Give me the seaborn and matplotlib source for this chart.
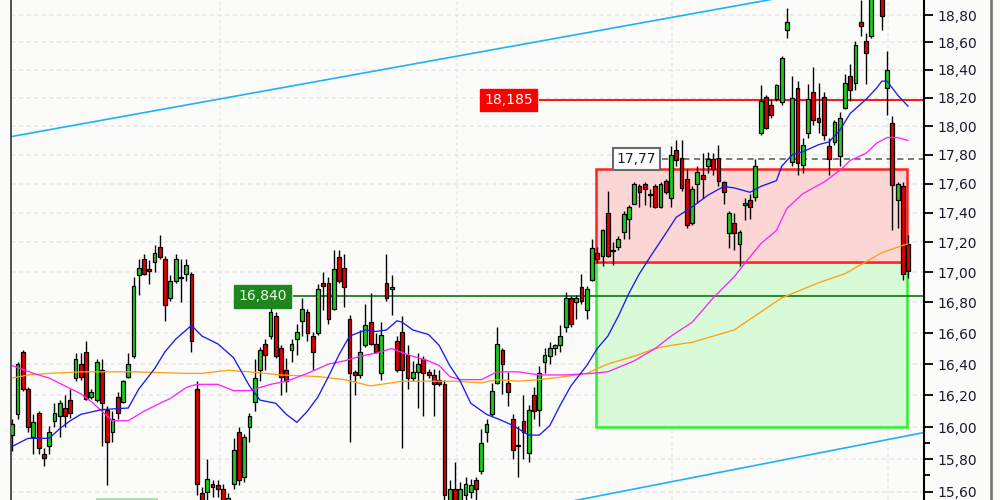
import numpy as np
import pandas as pd
import matplotlib
matplotlib.use("Agg")
import matplotlib.pyplot as plt
import seaborn as sns
from matplotlib.patches import Rectangle
from matplotlib.lines import Line2D
from matplotlib.ticker import FixedLocator, FuncFormatter, NullFormatter

# ---------------- data ----------------
OPEN = [15.95, 16.08, 16.48, 16.24, 15.94, 16.09, 15.83, 15.88, 16.04, 16.07,
        16.12, 16.17, 16.31, 16.40, 16.48, 16.19, 16.17, 16.36, 16.11, 15.97,
        16.19, 16.16, 16.32, 16.45, 16.98, 17.09, 17.02, 17.07, 17.17, 17.09,
        16.83, 16.94, 16.97, 16.99, 16.99, 16.24, 15.59, 15.60, 15.65, 15.64,
        15.62, 15.50, 15.65, 15.97, 15.69, 16.00, 16.16, 16.36, 16.53, 16.58,
        16.71, 16.50, 16.36, 16.49, 16.56, 16.68, 16.74, 16.58, 16.60, 16.93,
        16.93, 16.76, 17.10, 17.03, 16.69, 16.35, 16.33, 16.52, 16.67, 16.53,
        16.34, 16.93, 16.89, 16.55, 16.61, 16.46, 16.31, 16.35, 16.43, 16.35,
        16.33, 16.30, 16.27, 15.52, 15.62, 15.54, 15.58, 15.60, 15.67, 15.73,
        15.97, 16.08, 16.28, 16.49, 16.28, 16.05, 15.89, 16.04, 15.84, 16.20,
        16.11, 16.41, 16.45, 16.50, 16.52, 16.64, 16.83, 16.80, 16.90, 16.75,
        16.95, 17.13, 17.11, 17.40, 17.14, 17.17, 17.27, 17.36, 17.46, 17.58,
        17.60, 17.53, 17.58, 17.44, 17.62, 17.50, 17.83, 17.78, 17.63, 17.33,
        17.60, 17.66, 17.72, 17.77, 17.78, 17.61, 17.26, 17.33, 17.19, 17.45,
        17.49, 17.51, 17.95, 18.21, 18.15, 18.19, 18.17, 18.69, 17.75, 18.27,
        17.73, 17.95, 18.24, 18.06, 18.21, 17.86, 17.89, 17.79, 18.13, 18.36,
        18.31, 18.75, 18.61, 18.65, 19.00, 18.98, 18.27, 18.02, 17.49, 17.58,
        17.19]
HIGH = [16.05, 16.41, 16.49, 16.25, 16.08, 16.10, 15.87, 16.01, 16.15, 16.17,
        16.20, 16.24, 16.47, 16.47, 16.55, 16.24, 16.43, 16.43, 16.13, 16.10,
        16.22, 16.30, 16.47, 16.97, 17.09, 17.12, 17.08, 17.18, 17.25, 17.11,
        16.98, 17.12, 17.09, 17.09, 17.00, 16.29, 15.63, 15.80, 15.67, 15.67,
        15.65, 15.59, 15.93, 16.00, 15.96, 16.09, 16.43, 16.51, 16.56, 16.77,
        16.74, 16.52, 16.44, 16.56, 16.66, 16.83, 16.76, 16.61, 16.92, 17.00,
        16.97, 17.15, 17.15, 17.12, 16.72, 16.36, 16.62, 16.79, 16.86, 16.60,
        16.67, 17.12, 16.98, 16.58, 16.71, 16.52, 16.42, 16.47, 16.45, 16.37,
        16.37, 16.36, 16.30, 15.67, 15.78, 15.66, 15.69, 15.68, 15.69, 15.99,
        16.05, 16.28, 16.64, 16.50, 16.35, 16.08, 16.01, 16.20, 16.14, 16.25,
        16.39, 16.50, 16.54, 16.53, 16.65, 16.87, 16.84, 16.85, 16.99, 16.91,
        17.22, 17.17, 17.29, 17.55, 17.20, 17.24, 17.41, 17.45, 17.61, 17.60,
        17.61, 17.56, 17.60, 17.61, 17.63, 17.86, 17.90, 17.90, 17.70, 17.58,
        17.72, 17.81, 17.82, 17.81, 17.87, 17.62, 17.41, 17.40, 17.28, 17.50,
        17.53, 17.77, 18.29, 18.22, 18.19, 18.30, 18.50, 18.85, 18.36, 18.32,
        17.92, 18.30, 18.42, 18.31, 18.24, 17.92, 18.04, 18.10, 18.37, 18.44,
        18.61, 18.91, 18.67, 19.02, 19.10, 19.03, 18.54, 18.07, 17.61, 17.61,
        17.25]
LOW = [15.85, 16.05, 16.23, 15.97, 15.83, 15.83, 15.76, 15.83, 16.00, 15.94,
       16.00, 16.06, 16.29, 16.30, 16.17, 16.18, 16.16, 15.88, 15.64, 15.91,
       16.05, 16.15, 16.31, 16.44, 16.85, 16.98, 16.92, 17.00, 17.09, 16.68,
       16.81, 16.93, 16.80, 16.94, 16.48, 15.58, 15.45, 15.55, 15.57, 15.57,
       15.48, 15.46, 15.62, 15.64, 15.66, 15.91, 16.10, 16.29, 16.36, 16.56,
       16.44, 16.20, 16.22, 16.41, 16.46, 16.58, 16.55, 16.36, 16.59, 16.75,
       16.66, 16.75, 16.93, 16.77, 15.91, 16.20, 16.31, 16.51, 16.52, 16.47,
       16.30, 16.81, 16.72, 16.35, 15.87, 16.24, 16.29, 16.12, 16.07, 16.31,
       16.07, 16.26, 15.52, 15.48, 15.50, 15.50, 15.53, 15.56, 15.55, 15.71,
       15.91, 16.07, 16.27, 16.21, 16.13, 15.80, 15.69, 15.80, 15.78, 16.05,
       16.01, 16.34, 16.40, 16.46, 16.48, 16.61, 16.64, 16.69, 16.79, 16.69,
       16.94, 17.06, 17.04, 17.10, 17.05, 17.15, 17.22, 17.22, 17.46, 17.44,
       17.45, 17.44, 17.43, 17.43, 17.53, 17.44, 17.72, 17.55, 17.30, 17.32,
       17.47, 17.50, 17.67, 17.66, 17.58, 17.46, 17.16, 17.15, 17.04, 17.35,
       17.36, 17.48, 17.94, 17.98, 18.06, 18.18, 18.15, 18.63, 17.72, 17.66,
       17.67, 17.92, 18.01, 17.95, 17.90, 17.66, 17.87, 17.72, 18.12, 18.18,
       18.26, 18.65, 18.30, 18.63, 18.94, 18.69, 18.08, 17.28, 17.30, 16.95,
       16.96]
CLOSE = [16.02, 16.40, 16.24, 16.00, 16.03, 15.87, 15.81, 15.97, 16.09, 16.15,
         16.07, 16.09, 16.43, 16.32, 16.18, 16.22, 16.41, 16.15, 15.91, 16.05,
         16.09, 16.29, 16.40, 16.91, 17.03, 16.99, 17.01, 17.13, 17.10, 16.78,
         16.94, 17.09, 16.96, 17.05, 16.55, 15.65, 15.50, 15.68, 15.63, 15.62,
         15.52, 15.56, 15.86, 15.67, 15.94, 16.07, 16.31, 16.49, 16.46, 16.74,
         16.45, 16.32, 16.29, 16.53, 16.61, 16.76, 16.60, 16.48, 16.89, 16.91,
         16.69, 17.02, 16.94, 16.90, 16.34, 16.33, 16.48, 16.65, 16.53, 16.48,
         16.59, 16.83, 16.90, 16.36, 16.36, 16.31, 16.35, 16.40, 16.34, 16.33,
         16.27, 16.27, 15.58, 15.62, 15.54, 15.62, 15.65, 15.64, 15.62, 15.90,
         16.02, 16.23, 16.53, 16.40, 16.22, 15.86, 15.88, 15.97, 16.11, 16.10,
         16.34, 16.46, 16.50, 16.52, 16.58, 16.83, 16.66, 16.83, 16.81, 16.89,
         17.16, 17.09, 17.28, 17.11, 17.15, 17.22, 17.39, 17.44, 17.60, 17.54,
         17.56, 17.52, 17.44, 17.60, 17.54, 17.80, 17.76, 17.57, 17.32, 17.56,
         17.68, 17.63, 17.77, 17.70, 17.62, 17.54, 17.40, 17.26, 17.27, 17.47,
         17.44, 17.72, 18.18, 17.99, 18.08, 18.29, 18.49, 18.75, 18.20, 17.74,
         17.87, 18.19, 18.04, 18.03, 17.94, 17.77, 18.03, 18.06, 18.31, 18.26,
         18.58, 18.72, 18.52, 18.97, 19.06, 18.79, 18.40, 17.59, 17.60, 16.99,
         17.01]

# moving averages (bar index, price)
MA_FAST_IDX = [0, 3, 7, 9, 11, 13, 17, 22, 24, 27, 29, 31, 34, 36, 39, 42, 45, 47, 50, 52,
               54, 56, 58, 60, 62, 64, 67, 69, 71, 73, 74, 76, 79, 81, 83, 85, 87, 90, 93, 95,
               98, 100, 102, 104, 106, 109, 111, 113, 115, 117, 119, 121, 124, 126, 129, 132,
               135, 137, 140, 142, 145, 146, 148, 150, 153, 155, 157, 159, 162, 164, 165, 166,
               168, 170]
MA_FAST = [15.88, 15.93, 15.93, 15.99, 16.04, 16.08, 16.11, 16.12, 16.24, 16.37, 16.48, 16.56,
           16.65, 16.58, 16.53, 16.44, 16.26, 16.17, 16.15, 16.08, 16.03, 16.10, 16.19, 16.32,
           16.46, 16.58, 16.62, 16.61, 16.62, 16.68, 16.67, 16.62, 16.59, 16.52, 16.39, 16.29,
           16.15, 16.08, 16.04, 16.01, 15.95, 15.95, 16.01, 16.14, 16.26, 16.39, 16.50, 16.58,
           16.71, 16.86, 16.99, 17.10, 17.26, 17.37, 17.44, 17.52, 17.58, 17.57, 17.54, 17.58,
           17.62, 17.72, 17.80, 17.82, 17.87, 17.89, 17.97, 18.09, 18.19, 18.27, 18.32, 18.32,
           18.22, 18.14]
MA_MID_IDX = [0, 4, 7, 10, 13, 15, 17, 19, 22, 25, 28, 30, 33, 35, 39, 42, 45, 49, 52, 56,
              60, 63, 66, 69, 72, 75, 79, 81, 83, 85, 89, 92, 96, 100, 105, 110, 113, 118, 122,
              125, 129, 133, 137, 139, 142, 145, 147, 150, 154, 157, 159, 162, 164, 166, 168, 170]
MA_MID = [16.39, 16.34, 16.31, 16.26, 16.21, 16.16, 16.10, 16.04, 16.04, 16.10, 16.15, 16.18,
          16.25, 16.27, 16.27, 16.23, 16.23, 16.27, 16.29, 16.34, 16.40, 16.42, 16.45, 16.47,
          16.50, 16.46, 16.42, 16.39, 16.32, 16.30, 16.30, 16.35, 16.35, 16.33, 16.33, 16.34,
          16.35, 16.42, 16.50, 16.58, 16.67, 16.83, 16.97, 17.06, 17.19, 17.28, 17.43, 17.53,
          17.61, 17.69, 17.76, 17.81, 17.88, 17.92, 17.92, 17.90]
MA_SLOW_IDX = [0, 3, 7, 13, 23, 33, 36, 41, 45, 51, 58, 63, 68, 70, 74, 79, 84, 89, 92, 96,
               100, 105, 109, 113, 118, 122, 125, 129, 133, 137, 140, 146, 153, 158, 162, 165,
               169, 170]
MA_SLOW = [16.31, 16.33, 16.34, 16.35, 16.35, 16.34, 16.34, 16.36, 16.35, 16.33, 16.32, 16.30,
           16.26, 16.27, 16.29, 16.29, 16.29, 16.28, 16.30, 16.29, 16.30, 16.32, 16.34, 16.40,
           16.45, 16.50, 16.52, 16.54, 16.58, 16.62, 16.69, 16.83, 16.93, 16.99, 17.07, 17.13,
           17.18, 17.19]

# channel lines (bar index, price)
CHANNEL_UPPER_IDX = [-0.44, 172.98]
CHANNEL_UPPER = [17.925, 19.12]
CHANNEL_LOWER_IDX = [104.9, 172.98]
CHANNEL_LOWER = [15.535, 15.966]

# levels / zones
RESIST_LEVEL = 18.185
SUPPORT_LEVEL = 16.840
HIGH_MARK = 17.77
ZONE_IDX = (110.75, 169.8)
ZONE_RED = (17.07, 17.70)
ZONE_GREEN = (16.00, 17.07)

Y_TICKS = [15.6, 15.8, 16.0, 16.2, 16.4, 16.6, 16.8, 17.0, 17.2, 17.4, 17.6, 17.8,
           18.0, 18.2, 18.4, 18.6, 18.8]
Y_MINOR = [15.7, 15.9]
V_GRID = [39.4, 84.4, 125.2, 166.2]

# ---------------- style ----------------
BG = "#FBFCFA"
sns.set_style("white", {"axes.facecolor": BG, "figure.facecolor": BG})
plt.rcParams['font.family'] = ['DejaVu Sans']

fig = plt.figure(figsize=(10, 5), dpi=100)
fig.patch.set_facecolor(BG)
ax = fig.add_axes([0.0105, 0.0, 0.9135, 1.0])
ax.set_facecolor(BG)
ax.set_yscale('log')

XLIM = (-0.34, 173.0)
YLIM = (15.550, 18.911)

# zones
gx0, gx1 = ZONE_IDX
ax.add_patch(Rectangle((gx0, ZONE_GREEN[0]), gx1 - gx0, ZONE_GREEN[1] - ZONE_GREEN[0],
                       facecolor="#D9FAD7", edgecolor="#30EE30", lw=1.8, zorder=1))
ax.add_patch(Rectangle((gx0, ZONE_RED[0]), gx1 - gx0, ZONE_RED[1] - ZONE_RED[0],
                       facecolor="#FCD5D5", edgecolor="#FF2222", lw=1.8, zorder=1.1))

# channel lines
ax.plot(CHANNEL_UPPER_IDX, CHANNEL_UPPER, color="#1EB2F2", lw=1.2, zorder=2)
ax.plot(CHANNEL_LOWER_IDX, CHANNEL_LOWER, color="#1EB2F2", lw=1.2, zorder=2)

# level lines and labels
ax.hlines(RESIST_LEVEL, 99.9, XLIM[1], color="#FF0000", lw=1.3, zorder=2.5)
ax.text(94.2, RESIST_LEVEL, "18,185", ha="center", va="center", color="white",
        fontsize=10, zorder=8,
        bbox=dict(boxstyle="square,pad=0.3", fc="#FF0000", ec="#FF0000"))
ax.hlines(SUPPORT_LEVEL, 53.3, XLIM[1], color="#1C7F1C", lw=1.3, zorder=2.5)
ax.text(47.5, SUPPORT_LEVEL, "16,840", ha="center", va="center", color="#F4F8E4",
        fontsize=10, zorder=8,
        bbox=dict(boxstyle="square,pad=0.3", fc="#1E861E", ec="#1E861E"))
ax.hlines(HIGH_MARK, 123.3, XLIM[1], color="#555555", lw=1.1, linestyles=(0, (4, 3)), zorder=2.5)
ax.text(118.4, HIGH_MARK, "17,77", ha="center", va="center", color="#1A1A3A",
        fontsize=10, zorder=8,
        bbox=dict(boxstyle="square,pad=0.28", fc="white", ec="#6A6A6A", lw=1.5))

# partially visible label at bottom-left
ax.add_patch(Rectangle((16.1, 15.40), 11.4, 0.156, facecolor="#EAF8EA",
                       edgecolor="#A0DCA0", lw=1.2, zorder=7))

# candles
o = np.array(OPEN); h = np.array(HIGH); l = np.array(LOW); c = np.array(CLOSE)
x = np.arange(len(o))
up = c >= o
bottom = np.minimum(o, c)
height = np.maximum(np.abs(c - o), 0.008)
colors = np.where(up, "#1DCC1D", "#E00000")
ax.vlines(x, l, h, color="black", lw=1.0, zorder=4)
ax.bar(x, height, bottom=bottom, width=0.72, color=colors, edgecolor="black",
       linewidth=0.9, zorder=5)

# moving averages via seaborn
ma_df = pd.concat([
    pd.DataFrame({"idx": MA_SLOW_IDX, "val": MA_SLOW, "ma": "slow"}),
    pd.DataFrame({"idx": MA_MID_IDX, "val": MA_MID, "ma": "mid"}),
    pd.DataFrame({"idx": MA_FAST_IDX, "val": MA_FAST, "ma": "fast"}),
])
sns.lineplot(data=ma_df, x="idx", y="val", hue="ma", estimator=None, sort=False,
             palette={"fast": "#1A1AF0", "mid": "#FF22FF", "slow": "#FFA010"},
             legend=False, lw=0.95, ax=ax, zorder=6)

ax.set_xlim(*XLIM)
ax.set_ylim(*YLIM)
ax.set_xlabel("")
ax.set_ylabel("")

# axes / ticks
ax.yaxis.tick_right()
ax.yaxis.set_major_locator(FixedLocator(Y_TICKS))
ax.yaxis.set_major_formatter(FuncFormatter(lambda v, p: f"{v:.2f}".replace(".", ",")))
ax.yaxis.set_minor_locator(FixedLocator(Y_MINOR))
ax.yaxis.set_minor_formatter(NullFormatter())
ax.tick_params(axis="y", which="major", direction="out", length=6.5, width=1.3,
               pad=3, labelsize=10, labelcolor="#1A1A2A", color="black")
ax.tick_params(axis="y", which="minor", direction="out", length=4.5, width=1.3, color="black")
ax.set_xticks(V_GRID)
ax.tick_params(axis="x", length=0, labelbottom=False)

ax.grid(axis="y", which="major", color="#E6E6E6", lw=1.1, ls=(0, (3, 2)), zorder=0)
ax.grid(axis="x", which="major", color="#E8E8E8", lw=1.1, ls=(0, (2, 2)), zorder=0)
ax.set_axisbelow(True)

for s in ("top", "bottom"):
    ax.spines[s].set_visible(False)
ax.spines["left"].set_color("#333333")
ax.spines["left"].set_linewidth(1.2)
ax.spines["right"].set_color("black")
ax.spines["right"].set_linewidth(1.5)

fig.add_artist(Line2D([0.9905, 0.9905], [0, 1], transform=fig.transFigure,
                      color="#7A7A7A", lw=2))

fig.savefig("out.png", dpi=100, facecolor=BG)
